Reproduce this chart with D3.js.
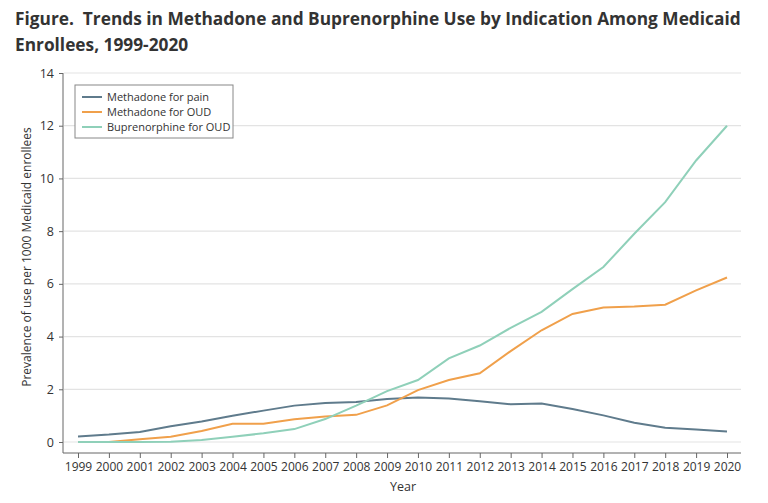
<!DOCTYPE html>
<html lang="en">
<head>
  <meta charset="UTF-8">
  <title>Trends in Methadone and Buprenorphine Use</title>
  <script src="https://d3js.org/d3.v7.min.js"></script>
  <style>
    body { margin: 0; background: #fff; }
    text { font-family: "Open Sans", sans-serif; fill: #333; }
    .title { font-weight: 700; font-size: 17.3px; fill: #333; white-space: pre; }
    .tick text { font-size: 12.5px; fill: #333; }
    .grid line { stroke: #e3e3e3; stroke-width: 1.2px; }
    .line { fill: none; stroke-width: 2px; }
  </style>
</head>
<body>
  <svg width="768" height="503"></svg>
  <script>
    const years = d3.range(1999, 2021);
    const methadonePain = [0.21, 0.28, 0.38, 0.6, 0.78, 1.0, 1.19, 1.38, 1.48, 1.52, 1.63, 1.69, 1.65, 1.55, 1.43, 1.46, 1.25, 1.01, 0.73, 0.54, 0.47, 0.40];
    const methadoneOud  = [0.0, 0.0, 0.1, 0.2, 0.42, 0.69, 0.69, 0.86, 0.97, 1.03, 1.39, 1.97, 2.35, 2.61, 3.45, 4.24, 4.86, 5.1, 5.14, 5.21, 5.75, 6.24];
    const buprenorphine = [0.0, 0.0, 0.0, 0.01, 0.08, 0.2, 0.33, 0.49, 0.87, 1.38, 1.93, 2.35, 3.17, 3.66, 4.33, 4.94, 5.8, 6.64, 7.9, 9.1, 10.68, 12.0];
    const yTicks = [0, 2, 4, 6, 8, 10, 12, 14];

    const series = [
      { name: "Methadone for pain", values: methadonePain, color: "#5f7b8c" },
      { name: "Methadone for OUD", values: methadoneOud, color: "#f0a04b" },
      { name: "Buprenorphine for OUD", values: buprenorphine, color: "#8fd0b9" }
    ];

    const svg = d3.select("svg");

    const x = d3.scaleLinear().domain([1999, 2020]).range([78, 727]);
    const y = d3.scaleLinear().domain([0, 14]).range([442, 73]);

    // title
    svg.append("text").attr("class", "title").attr("x", 15).attr("y", 25)
      .text("Figure.  Trends in Methadone and Buprenorphine Use by Indication Among Medicaid");
    svg.append("text").attr("class", "title").attr("x", 15).attr("y", 51)
      .text("Enrollees, 1999-2020");

    // gridlines
    svg.append("g").attr("class", "grid")
      .selectAll("line").data(yTicks).enter().append("line")
      .attr("x1", 64).attr("x2", 741)
      .attr("y1", d => y(d)).attr("y2", d => y(d));

    // y axis
    const yAxis = svg.append("g").attr("transform", "translate(63,0)")
      .call(d3.axisLeft(y).tickValues(yTicks).tickSize(4).tickPadding(5));
    yAxis.select(".domain").attr("d", `M0,${y(14)}V453`).attr("stroke", "#666");
    yAxis.selectAll(".tick line").attr("stroke", "#666");

    // x axis
    const xAxis = svg.append("g").attr("transform", "translate(0,453)")
      .call(d3.axisBottom(x).tickValues(years).tickFormat(d3.format("d")).tickSize(5).tickPadding(4));
    xAxis.select(".domain").attr("d", "M63,0H741").attr("stroke", "#666");
    xAxis.selectAll(".tick line").attr("stroke", "#666");
    xAxis.selectAll(".tick text").style("font-size", "12px");

    // axis titles
    svg.append("text").attr("x", 403).attr("y", 491).attr("text-anchor", "middle")
      .style("font-size", "12.5px").text("Year");
    svg.append("text").attr("transform", "translate(31,257) rotate(-90)")
      .attr("text-anchor", "middle").style("font-size", "12px")
      .text("Prevalence of use per 1000 Medicaid enrollees");

    // lines
    const line = d3.line().x((d, i) => x(years[i])).y(d => y(d));
    svg.append("g").selectAll("path").data(series).enter().append("path")
      .attr("class", "line")
      .attr("stroke", d => d.color)
      .attr("d", d => line(d.values));

    // legend
    const lg = svg.append("g").attr("transform", "translate(75,85)");
    lg.append("rect").attr("width", 158).attr("height", 53)
      .attr("fill", "#fff").attr("stroke", "#888").attr("stroke-width", 1);
    series.forEach((s, i) => {
      const yy = 12 + i * 15;
      lg.append("line").attr("x1", 7).attr("x2", 27).attr("y1", yy).attr("y2", yy)
        .attr("stroke", s.color).attr("stroke-width", 2);
      lg.append("text").attr("x", 32).attr("y", yy + 4)
        .style("font-size", "11px").text(s.name);
    });
  </script>
</body>
</html>
